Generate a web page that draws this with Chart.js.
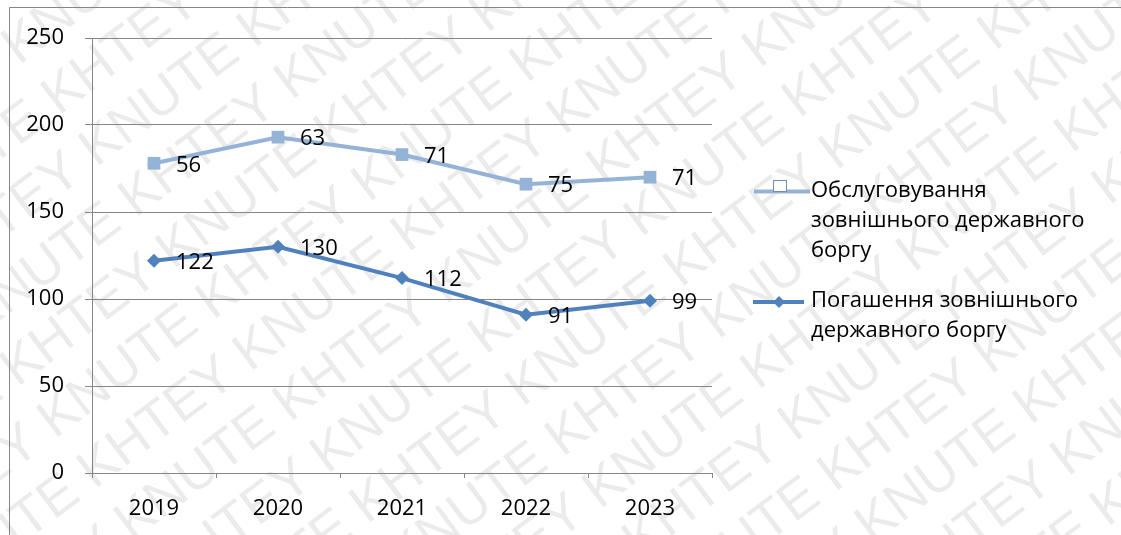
<!DOCTYPE html>
<html lang="uk">
<head>
<meta charset="utf-8">
<title>Зовнішній державний борг</title>
<script src="https://cdn.jsdelivr.net/npm/chart.js@4.4.1/dist/chart.umd.min.js"></script>
<style>
    html, body { margin: 0; padding: 0; background: #fff; }
    #wrap { width: 1121px; height: 535px; }
</style>
</head>
<body>
<div id="wrap"><canvas id="borg" width="1121" height="535"></canvas></div>
<script>
// Роки і значення (млрд грн)
var years = ["2019", "2020", "2021", "2022", "2023"];
var repayment = [122, 130, 112, 91, 99];   // погашення
var servicing = [56, 63, 71, 75, 71];      // обслуговування
var yMin = 0, yMax = 250, yStep = 50;

// Підписи легенди, розбиті на рядки
var servicingLabel = ["Обслуговування", "зовнішнього державного", "боргу"];
var repaymentLabel = ["Погашення зовнішнього", "державного боргу"];

var colServ = "#95b3d7";
var colRep = "#4f81bd";
var colAxis = "#868686";
var fontMain = "'Open Sans', Lato, sans-serif";

// Водяний знак на фоні + рамка
var watermark = {
    id: "watermark",
    beforeDraw: function (chart) {
        var ctx = chart.ctx;
        ctx.save();
        ctx.fillStyle = "#fff";
        ctx.fillRect(0, 0, chart.width, chart.height);
        ctx.font = "54px 'Liberation Sans', sans-serif";
        ctx.fillStyle = "rgba(0,0,0,0.08)";
        ctx.rotate(-37 * Math.PI / 180);
        var txt = "KNUTE KHTEY ";
        var w = ctx.measureText(txt).width;
        for (var k = -10; k < 30; k++) {
            var y = k * 64;
            var shift = (k % 2) * w / 2;
            for (var x = -1400 + shift; x < 1800; x += w) {
                ctx.fillText(txt, x, y);
            }
        }
        ctx.restore();

        ctx.save();
        ctx.strokeStyle = colAxis;
        ctx.lineWidth = 1;
        ctx.beginPath();
        ctx.moveTo(9.5, chart.height + 5);
        ctx.lineTo(9.5, 7.5);
        ctx.lineTo(chart.width + 5, 7.5);
        ctx.stroke();
        ctx.restore();
    }
};

// Підписи значень праворуч від точок
var valueLabels = {
    id: "valueLabels",
    afterDatasetsDraw: function (chart) {
        var ctx = chart.ctx;
        ctx.save();
        ctx.font = "22px " + fontMain;
        ctx.fillStyle = "#000";
        ctx.textAlign = "left";
        ctx.textBaseline = "middle";
        chart.data.datasets.forEach(function (ds, i) {
            chart.getDatasetMeta(i).data.forEach(function (pt, j) {
                ctx.fillText(String(ds.data[j]), pt.x + 22, pt.y + 2);
            });
        });
        ctx.restore();
    }
};

// Легенда справа з переносом рядків
var sideLegend = {
    id: "sideLegend",
    afterDraw: function (chart) {
        var ctx = chart.ctx;
        ctx.save();
        ctx.font = "22px " + fontMain;
        ctx.textAlign = "left";
        ctx.textBaseline = "alphabetic";

        // обслуговування
        ctx.strokeStyle = colServ;
        ctx.lineWidth = 4;
        ctx.beginPath();
        ctx.moveTo(754, 191.5);
        ctx.lineTo(810, 191.5);
        ctx.stroke();
        ctx.fillStyle = "#fff";
        ctx.fillRect(773.5, 180.5, 13, 11);
        ctx.lineWidth = 1;
        ctx.strokeStyle = "#6f8fb8";
        ctx.strokeRect(773.5, 180.5, 13, 11);
        ctx.fillStyle = "#000";
        servicingLabel.forEach(function (t, i) {
            ctx.fillText(t, 811, 197 + i * 30);
        });

        // погашення
        ctx.strokeStyle = colRep;
        ctx.lineWidth = 4;
        ctx.beginPath();
        ctx.moveTo(753, 302);
        ctx.lineTo(804, 302);
        ctx.stroke();
        ctx.fillStyle = colRep;
        ctx.beginPath();
        ctx.moveTo(779, 296);
        ctx.lineTo(785, 302);
        ctx.lineTo(779, 308);
        ctx.lineTo(773, 302);
        ctx.closePath();
        ctx.fill();
        ctx.fillStyle = "#000";
        repaymentLabel.forEach(function (t, i) {
            ctx.fillText(t, 811, 307 + i * 30);
        });
        ctx.restore();
    }
};

Chart.defaults.font.family = fontMain;
Chart.defaults.color = "#000";

new Chart(document.getElementById("borg"), {
    type: "line",
    data: {
        labels: years,
        datasets: [
            {
                label: repaymentLabel.join(" "),
                data: repayment,
                borderColor: colRep,
                backgroundColor: colRep,
                borderWidth: 4,
                pointStyle: "rectRot",
                pointRadius: 7,
                pointBorderWidth: 0,
                tension: 0,
                fill: false
            },
            {
                label: servicingLabel.join(" "),
                data: servicing,
                borderColor: colServ,
                backgroundColor: colServ,
                borderWidth: 4,
                pointStyle: "rect",
                pointRadius: 9,
                pointBorderWidth: 0,
                tension: 0,
                fill: false
            }
        ]
    },
    options: {
        responsive: false,
        animation: false,
        layout: { padding: { top: 38, right: 409, bottom: 0, left: 0 } },
        plugins: {
            legend: { display: false },
            tooltip: { enabled: false }
        },
        scales: {
            x: {
                offset: true,
                grid: { color: colAxis, drawOnChartArea: false, tickLength: 5, offset: true },
                border: { color: colAxis },
                ticks: { font: { size: 22 }, padding: 18, maxRotation: 0 },
                afterFit: function (s) { s.height = 62; }
            },
            y: {
                stacked: true,
                min: yMin,
                max: yMax,
                grid: { color: colAxis, tickLength: 7 },
                border: { color: colAxis },
                ticks: { stepSize: yStep, font: { size: 22 }, padding: 21 },
                afterFit: function (s) { s.width = 92; }
            }
        }
    },
    plugins: [watermark, valueLabels, sideLegend]
});
</script>
</body>
</html>
